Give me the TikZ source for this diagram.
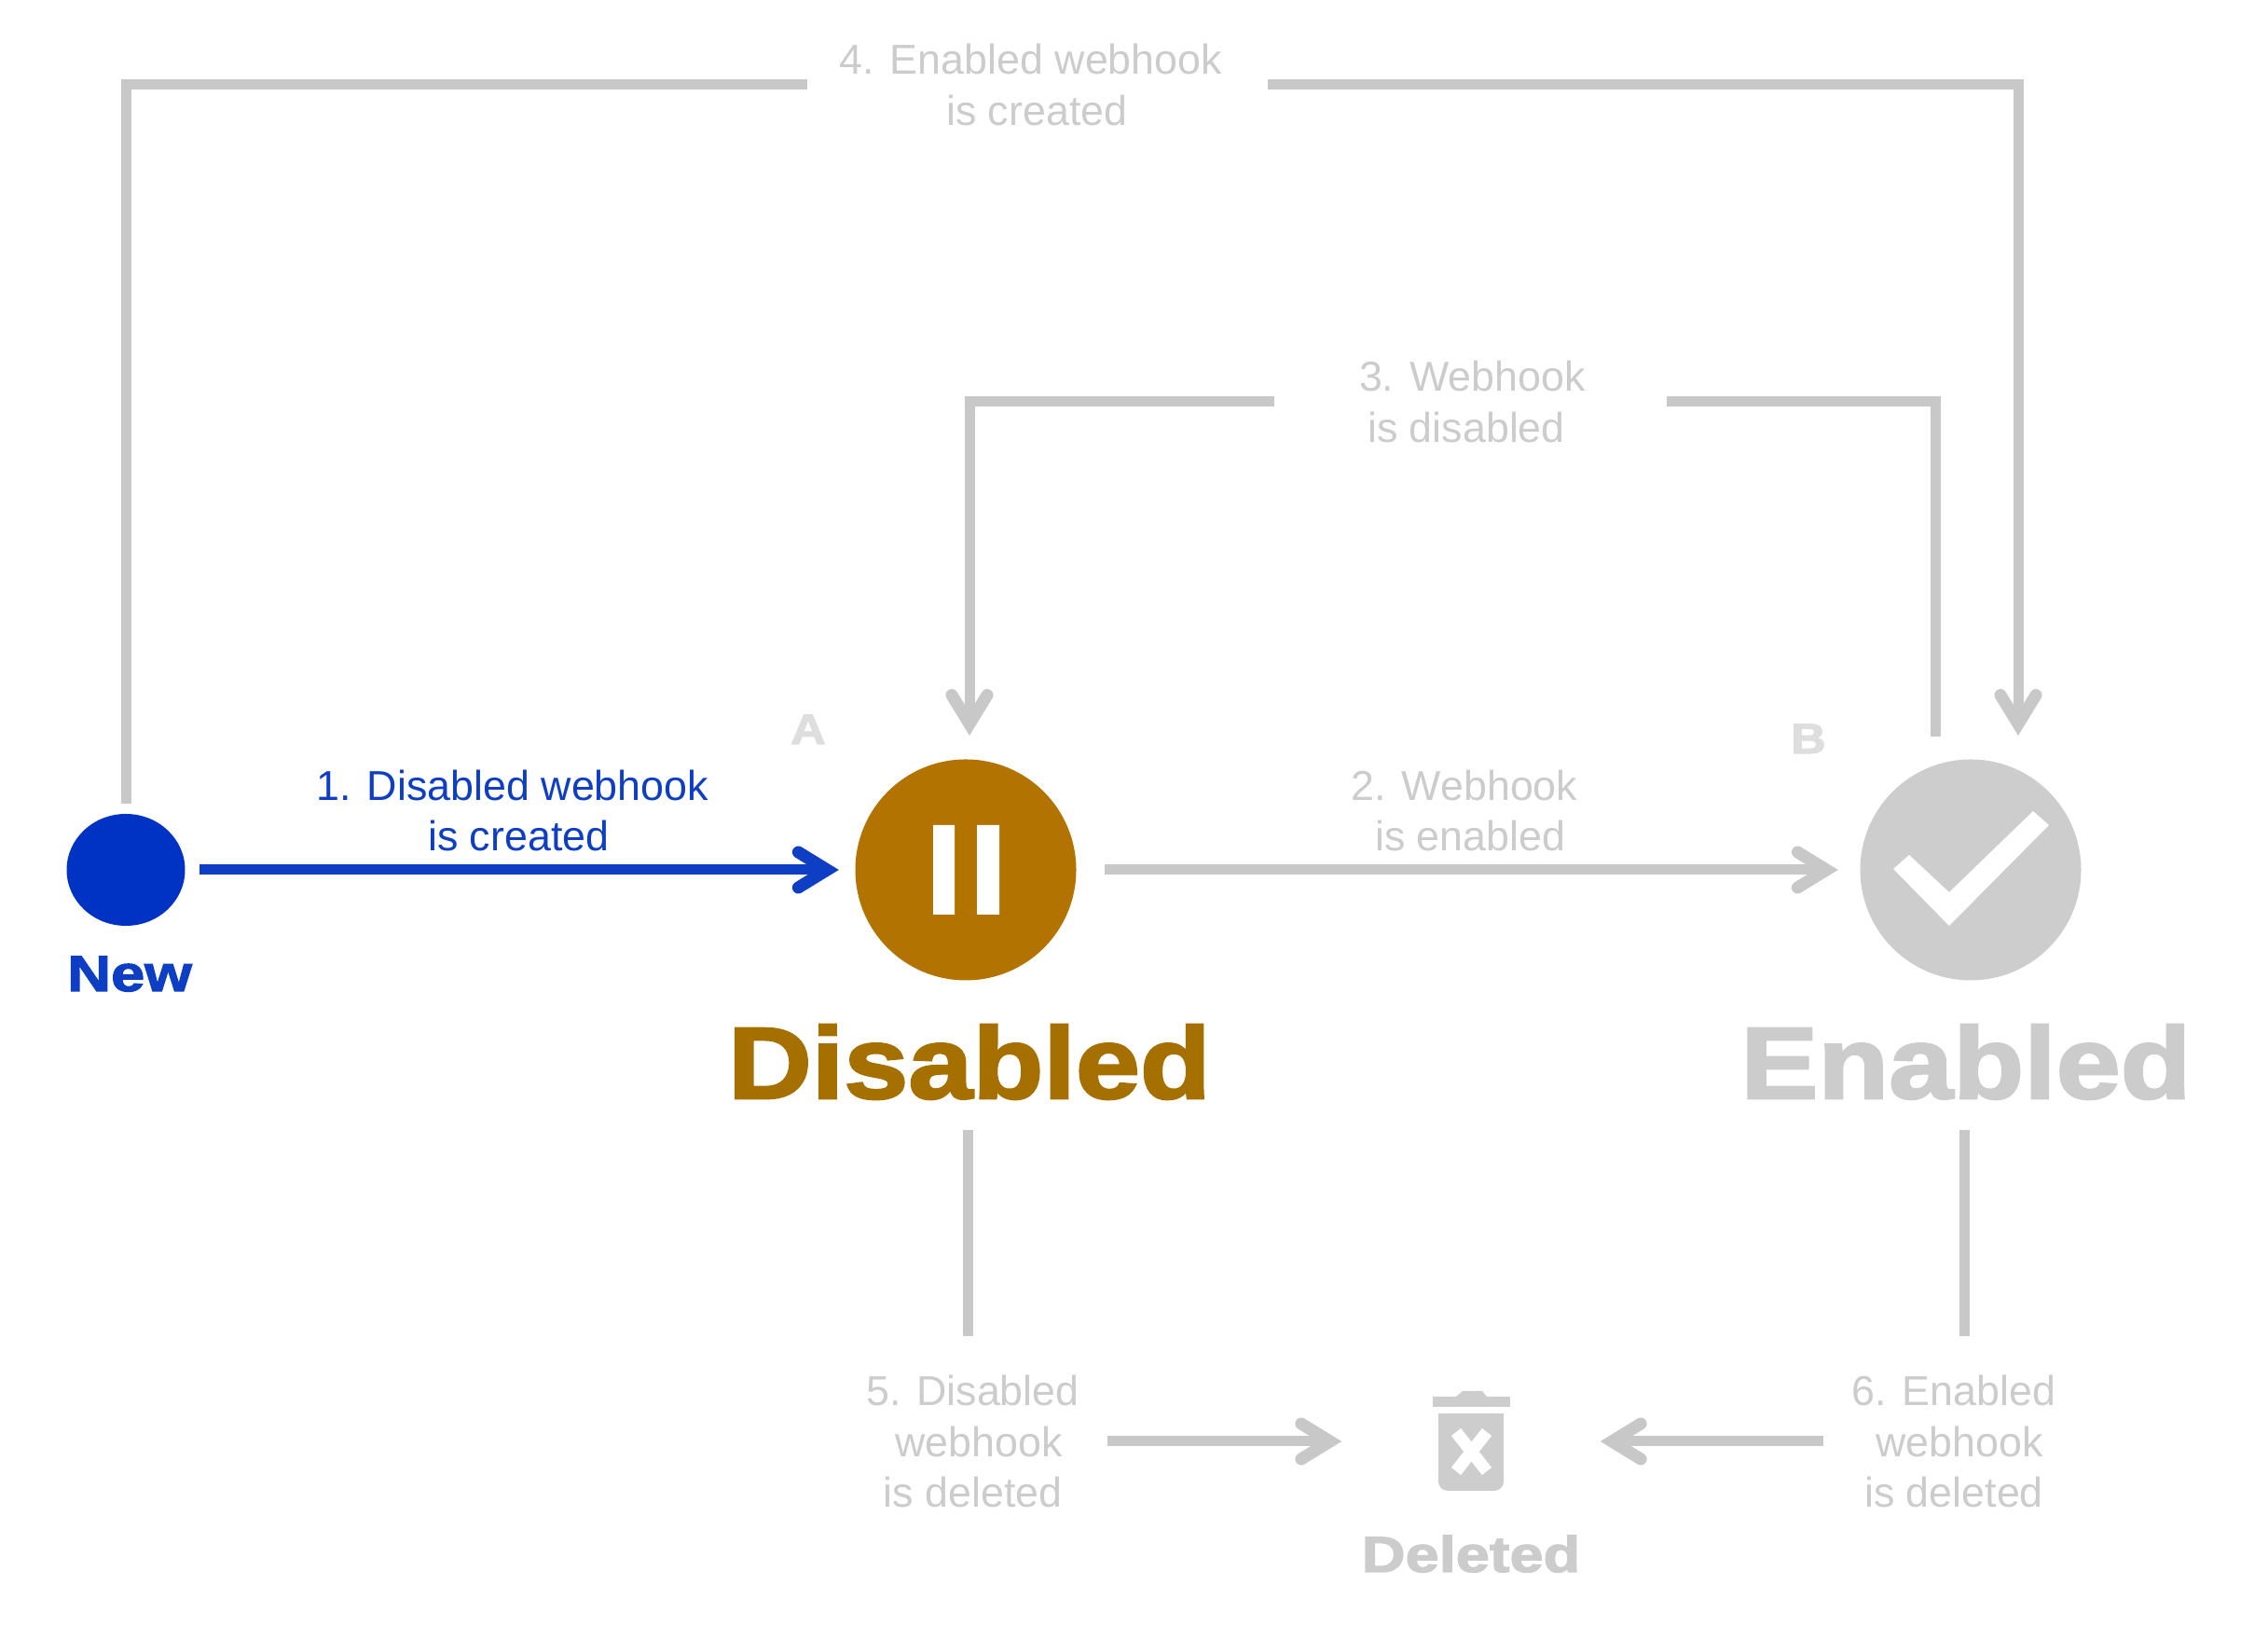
\documentclass[tikz,border=0pt]{standalone}
\usepackage{fontspec}
\setmainfont{Liberation Sans}
\newfontfamily\blackfont[UprightFont={* Bold},FakeBold=2.4,FakeStretch=1.14]{Liberation Sans}
\newfontfamily\wideblackfont[UprightFont={* Bold},FakeBold=2.4,FakeStretch=1.2]{Liberation Sans}
\usetikzlibrary{arrows.meta,shapes.geometric}
\definecolor{LineGray}{HTML}{C8C8C8}
\definecolor{TextGray}{HTML}{CCCCCC}
\definecolor{FillGray}{HTML}{CDCDCD}
\definecolor{MarkGray}{HTML}{DEDEDE}
\definecolor{LineBlue}{HTML}{0D3EC4}
\definecolor{FillBlue}{HTML}{0033C4}
\definecolor{FillBrown}{HTML}{B27300}
\definecolor{TextBrown}{HTML}{A67000}
\begin{document}
\begin{tikzpicture}[
    GL/.style={draw=LineGray,line width=0.11cm},
    GA/.style={GL,-{Straight Barb[length=0.31cm,width=0.38cm,line width=0.13cm,line cap=round,line join=miter]}},
    BA/.style={GA,draw=LineBlue},
    SN/.style={circle,inner sep=0pt,minimum size=2.37cm},
    GT/.style={text=TextGray,align=center,inner xsep=0.3cm,inner ysep=0pt,font=\fontsize{12.75}{15.6}\selectfont},
    BT/.style={GT,text=LineBlue},
    HT/.style={anchor=base,inner sep=0pt,text=TextGray,font=\blackfont\fontsize{31}{31}\selectfont},
    ST/.style={anchor=base,inner sep=0pt,text=TextGray,font=\wideblackfont\fontsize{15.4}{15.4}\selectfont},
    MT/.style={anchor=base,inner sep=0pt,text=MarkGray,font=\blackfont\fontsize{13}{13}\selectfont}
    ]
    \useasboundingbox (0,0) rectangle (24.33,17.44);
    % states
    \node [ellipse,inner sep=0pt,fill=FillBlue,minimum width=1.27cm,minimum height=1.2cm] (New) at (1.35,8.11) {};
    \node [SN,fill=FillBrown] (Dis) at (10.36,8.11) {};
    \node [SN,fill=FillGray] (En) at (21.14,8.11) {};
    \node [minimum width=2.76cm,inner sep=0pt] (Bin) at (15.78,1.98) {};
    \fill [white] (10.01,8.59) rectangle (10.24,7.63) (10.48,8.59) rectangle (10.72,7.63);
    \fill [white] (20.48,8.27) -- (20.91,7.87) -- (21.81,8.74) -- (21.98,8.59) -- (20.91,7.51) -- (20.31,8.12) -- cycle;
    \fill [FillGray] (15.37,2.35) rectangle (16.20,2.46);
    \fill [FillGray] (15.62,2.46) -- (15.69,2.52) -- (15.90,2.52) -- (15.95,2.46) -- cycle;
    \fill [FillGray,rounded corners=0.1cm] (15.43,2.28) -- (15.43,1.45) -- (16.13,1.45) -- (16.13,2.28) -- cycle;
    \fill [FillGray] (15.43,2.1) rectangle (16.13,2.28);
    \draw [white,line width=0.13cm] (15.62,2.08) -- (15.95,1.66) (15.95,2.08) -- (15.62,1.66);
    % state names
    \node [ST,text=LineBlue] (TNew) at (1.39,6.81) {New};
    \node [HT,text=TextBrown] (TDis) at (10.40,5.66) {Disabled};
    \node [HT] (TEn) at (21.09,5.66) {Enabled};
    \node [ST] (TBin) at (15.78,0.58) {Deleted};
    \node [MT] (TA) at (8.67,9.46) {A};
    \node [MT] (TB) at (19.40,9.36) {B};
    % transition labels
    \node [BT] (L1) at (5.50,8.745) {1. Disabled webhook\\\hspace*{.28em}is created};
    \node [GT] (L2) at (15.71,8.745) {2. Webhook\\\hspace*{.28em}is enabled};
    \node [GT,inner xsep=0.78cm] (L3) at (15.73,13.13) {\hspace*{.28em}3. Webhook\\is disabled};
    \node [GT,inner xsep=0.34cm] (L4) at (11.06,16.53) {4. Enabled webhook\\\hspace*{.28em}is created};
    \node [GT] (L5) at (10.435,1.98) {5. Disabled\\\hspace*{.28em}webhook\\is deleted};
    \node [GT] (L6) at (20.96,1.98) {6. Enabled\\\hspace*{.28em}webhook\\is deleted};
    % free ends
    \coordinate (P3) at (20.76,9.54);
    \coordinate (Q3) at (10.40,9.55);
    \coordinate (Q4) at (21.65,9.55);
    \coordinate (P5) at (10.38,0);
    \coordinate (P6) at (21.07,0);
    % transitions
    \draw [BA,shorten <=0.15cm,shorten >=0.17cm] (New) -- (Dis);
    \draw [GA,shorten <=0.3cm,shorten >=0.23cm] (Dis) -- (En);
    \draw [GL,shorten >=0.09cm] (P3) |- (L3.east);
    \draw [GA] (L3.west) -| (Q3);
    \draw [GL,shorten >=0.1cm] (L4.west) -| (New.north);
    \draw [GA,shorten <=0.14cm] (L4.east) -| (Q4);
    \draw [GL,shorten <=0.32cm,shorten >=0.41cm] (TDis.south -| P5) -- (L5.north -| P5);
    \draw [GL,shorten <=0.32cm,shorten >=0.41cm] (TEn.south -| P6) -- (L6.north -| P6);
    \draw [GA] (L5) -- (Bin);
    \draw [GA] (L6) -- (Bin);
  \end{tikzpicture}
\end{document}
